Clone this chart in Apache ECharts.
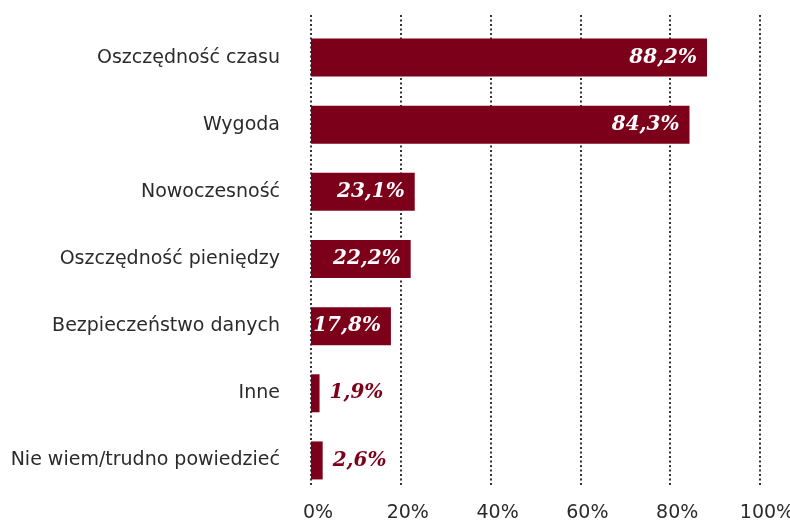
<!DOCTYPE html>
<html>
<head>
<meta charset="utf-8">
<script src="https://cdn.jsdelivr.net/npm/echarts@6/dist/echarts.min.js"></script>
<style>
  html, body { margin: 0; padding: 0; background: #fff; }
  #main { width: 790px; height: 525px; }
</style>
</head>
<body>
<div id="main"></div>
<script>
// kategorie (od góry)
var categories = ['Oszczędność czasu', 'Wygoda', 'Nowoczesność', 'Oszczędność pieniędzy',
    'Bezpieczeństwo danych', 'Inne', 'Nie wiem/trudno powiedzieć'];
// wartości w %
var values = [88.2, 84.3, 23.1, 22.2, 17.8, 1.9, 2.6];
var xTicks = [0, 20, 40, 60, 80, 100];

var red = '#7d001a';

var chart = echarts.init(document.getElementById('main'));

var barData = values.map(function (v) {
    var small = v < 5;
    return {
        value: v,
        label: {
            position: small ? 'right' : 'insideRight',
            distance: 10,
            color: small ? red : '#fff'
        }
    };
});

var option = {
    animation: false,
    grid: [
        {left: 311, right: 30, top: 24, bottom: 31, outerBoundsMode: 'none'},
        {left: 311, right: 30, top: 15, bottom: 40, outerBoundsMode: 'none'}
    ],
    xAxis: [
        {
            gridIndex: 0, type: 'value', min: 0, max: 100, interval: 20,
            axisLine: {show: false}, axisTick: {show: false},
            axisLabel: {show: false}, splitLine: {show: false}
        },
        {
            gridIndex: 1, type: 'value', min: xTicks[0], max: xTicks[xTicks.length - 1], interval: 20,
            axisLine: {show: false}, axisTick: {show: false},
            axisLabel: {
                margin: 19, color: '#2b2b2b', fontSize: 19,
                fontFamily: 'DejaVu Sans, sans-serif',
                padding: [0, 0, 0, 14],
                formatter: '{value}%'
            },
            splitLine: {show: true, lineStyle: {color: '#333', width: 2, type: [2, 2.5]}}
        }
    ],
    yAxis: [
        {
            gridIndex: 0, type: 'category', data: categories, inverse: true,
            axisLine: {show: false}, axisTick: {show: false},
            axisLabel: {
                margin: 31, color: '#2b2b2b', fontSize: 19,
                fontFamily: 'DejaVu Sans, sans-serif'
            }
        },
        {gridIndex: 1, type: 'value', min: 0, max: 1, show: false}
    ],
    series: [{
        type: 'bar',
        xAxisIndex: 0,
        yAxisIndex: 0,
        data: barData,
        barWidth: 38,
        itemStyle: {color: red},
        label: {
            show: true,
            fontFamily: 'DejaVu Serif, serif',
            fontWeight: 'bold',
            fontStyle: 'italic',
            fontSize: 20,
            formatter: function (p) {
                return p.value.toFixed(1).replace('.', ',') + '%';
            }
        }
    }]
};

chart.setOption(option);
</script>
</body>
</html>
